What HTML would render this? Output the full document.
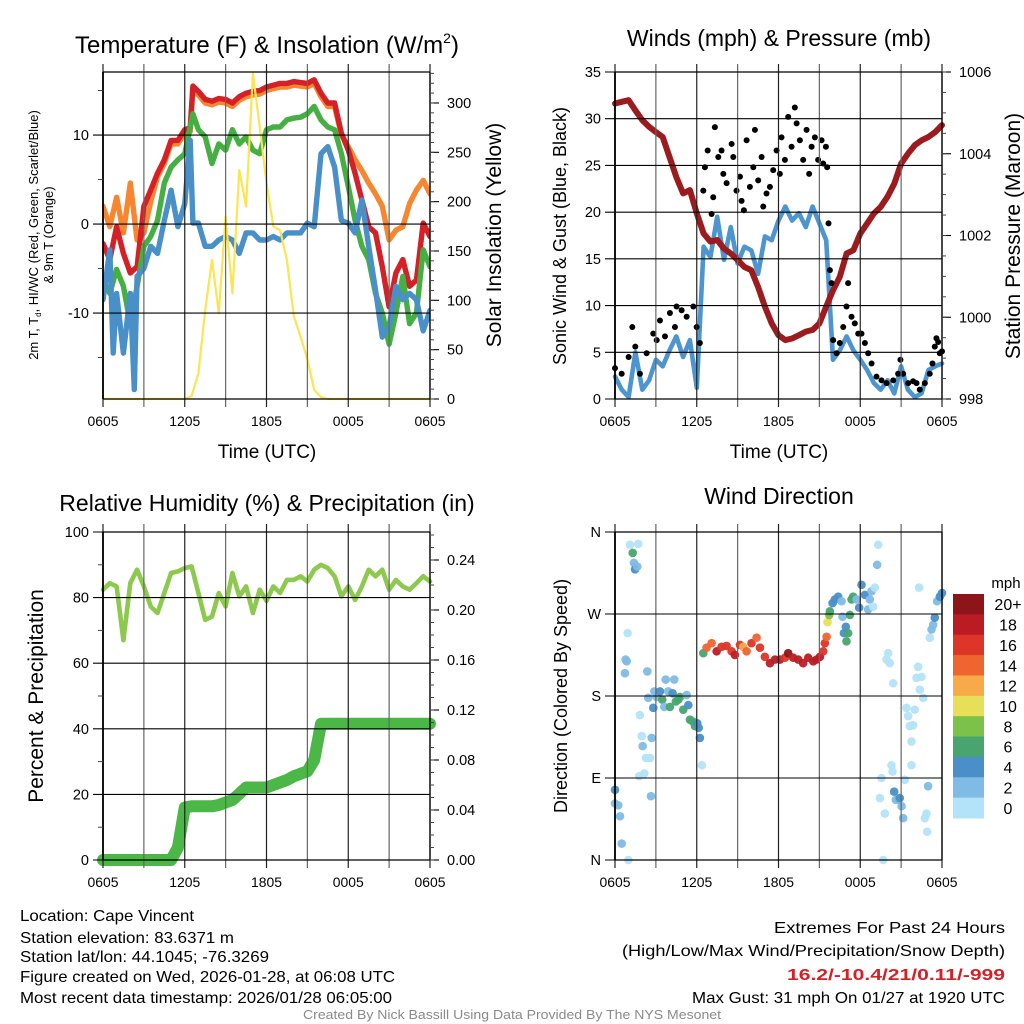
<!DOCTYPE html>
<html><head><meta charset="utf-8"><title>Mesonet Station Meteogram</title>
<style>
body{margin:0;background:#fff;}
svg{display:block;font-family:"Liberation Sans",sans-serif;}
</style></head>
<body>
<svg id="chart" width="1024" height="1024" viewBox="0 0 1024 1024" xmlns="http://www.w3.org/2000/svg">
<rect width="1024" height="1024" fill="#fff"/>
<g id="marks"></g>
<g id="axes"></g>
<g id="texts" fill="#000">
<text x="267" y="53" font-size="24" text-anchor="middle">Temperature (F) &amp; Insolation (W/m<tspan font-size="14" dy="-10">2</tspan><tspan dy="10">)</tspan></text>
<text x="779" y="46" font-size="23" text-anchor="middle">Winds (mph) &amp; Pressure (mb)</text>
<text x="267" y="511" font-size="23" text-anchor="middle">Relative Humidity (%) &amp; Precipitation (in)</text>
<text x="779" y="504" font-size="23" text-anchor="middle">Wind Direction</text>
<text x="267" y="458" font-size="19" text-anchor="middle">Time (UTC)</text>
<text x="779" y="458" font-size="19" text-anchor="middle">Time (UTC)</text>
<text transform="translate(38,235) rotate(-90)" font-size="13" text-anchor="middle">2m T, T<tspan font-size="8" dy="3">d</tspan><tspan dy="-3">, HI/WC (Red, Green, Scarlet/Blue)</tspan></text>
<text transform="translate(53,235) rotate(-90)" font-size="13" text-anchor="middle">&amp; 9m T (Orange)</text>
<text transform="translate(501,235) rotate(-90)" font-size="21" text-anchor="middle">Solar Insolation (Yellow)</text>
<text transform="translate(566,236) rotate(-90)" font-size="18" text-anchor="middle">Sonic Wind &amp; Gust (Blue, Black)</text>
<text transform="translate(1020,236) rotate(-90)" font-size="21" text-anchor="middle">Station Pressure (Maroon)</text>
<text transform="translate(43,696) rotate(-90)" font-size="21" text-anchor="middle">Percent &amp; Precipitation</text>
<text transform="translate(567,696) rotate(-90)" font-size="18" text-anchor="middle">Direction (Colored By Speed)</text>
<text x="1006" y="588" font-size="15" text-anchor="middle">mph</text>
<text x="20" y="921" font-size="16" textLength="174" lengthAdjust="spacingAndGlyphs">Location: Cape Vincent</text>
<text x="20" y="943" font-size="16" textLength="214" lengthAdjust="spacingAndGlyphs">Station elevation: 83.6371 m</text>
<text x="20" y="962" font-size="16" textLength="249" lengthAdjust="spacingAndGlyphs">Station lat/lon: 44.1045; -76.3269</text>
<text x="20" y="982" font-size="16" textLength="375" lengthAdjust="spacingAndGlyphs">Figure created on Wed, 2026-01-28, at 06:08 UTC</text>
<text x="20" y="1003" font-size="16" textLength="372" lengthAdjust="spacingAndGlyphs">Most recent data timestamp: 2026/01/28 06:05:00</text>
<text x="1005" y="933" font-size="16" text-anchor="end" textLength="231" lengthAdjust="spacingAndGlyphs">Extremes For Past 24 Hours</text>
<text x="1005" y="956" font-size="16" text-anchor="end" textLength="383" lengthAdjust="spacingAndGlyphs">(High/Low/Max Wind/Precipitation/Snow Depth)</text>
<text x="1005" y="980" font-size="16" font-weight="bold" fill="#d42027" text-anchor="end" textLength="218" lengthAdjust="spacingAndGlyphs">16.2/-10.4/21/0.11/-999</text>
<text x="1005" y="1003" font-size="16" text-anchor="end" textLength="313" lengthAdjust="spacingAndGlyphs">Max Gust: 31 mph On 01/27 at 1920 UTC</text>
<text x="512" y="1019" font-size="13" fill="#8a8a8a" text-anchor="middle" textLength="418" lengthAdjust="spacingAndGlyphs">Created By Nick Bassill Using Data Provided By The NYS Mesonet</text>
</g>
</svg>
<script>
// ---------- data ----------
const timeTicks = ["0605","1205","1805","0005","0605"];
const tempHours = [0,0.5,1,1.5,2,2.5,3,3.5,4,4.5,5,5.5,6,6.4,6.6,7,7.5,8,8.5,9,9.5,10,10.5,11,11.5,12,12.5,13,13.5,14,14.5,15,15.5,16,16.5,17,17.5,18,18.5,19,19.5,20,20.5,21,21.5,22,22.5,23,23.5,24];
const temp2m = [-2.2,-4,-0.3,-3.3,-5.5,-4.8,2,3.8,5.7,7.2,9.4,9.4,10.6,10.8,15.5,14.9,14,13.8,14.1,14,13.6,14.3,14.7,14.9,15,15.4,15.6,15.8,15.8,16,15.9,15.8,16.2,14.7,13.6,13.6,10.2,8.3,5.7,2.7,-0.3,-1,-4.8,-9.3,-5.5,-4,-7,-6.3,0.1,-1.4];
const temp9m = [2,-0.3,3,-1,4.6,-1.8,-1,2.5,5.3,6.8,9,9,10.2,10.4,15.1,14.5,13.6,13.4,13.7,13.6,13.2,13.9,14.3,14.5,14.6,15,15.2,15.4,15.4,15.6,15.5,15.4,15.8,14.3,13.2,13.2,10,8.7,7.2,6,4.6,3.4,2,-1.8,-0.7,-0.3,2.3,3.8,4.9,3.4];
const dewpoint = [-6.3,-7.8,-5.1,-7,-11.2,-7,-2.5,-1.4,0.4,4.6,6.4,7.2,7.9,10.9,12.4,10.6,9.8,6.8,9,8.3,10.6,9,9.8,8.3,7.9,10.6,10.9,10.9,11.7,11.9,12,12.4,13.2,11.7,10.9,10.6,7.9,4.2,0.4,-2.5,-4,-7.8,-10,-13.5,-10,-5.9,-11.2,-10,-2.9,-4.8];
const windChillHours = [0,0.5,0.75,1,1.5,2,2.3,2.5,3,3.5,4,4.5,5,5.5,6,6.4,6.6,7,7.5,8,8.5,9,9.5,10,10.5,11,11.5,12,12.5,13,13.5,14,14.5,15,15.5,16,16.5,17,17.5,18,18.5,19,19.5,20,20.5,21,21.5,22,22.5,23,23.5,24];
const windChill = [-8.5,-2.9,-14.5,-7.8,-14.5,-7.8,-18.6,-5.9,-5,-2.5,-3.3,0.4,3.8,-0.3,2.3,9.4,0.1,0.1,-2.5,-2.5,-1.8,-1.4,-1.8,-3.3,-1,-1,-1.8,-1.8,-1.4,-1.8,-1,-1,-1,0.1,-0.3,7.9,8.7,6.4,0.4,0.1,-1,2.7,-2.5,-7.4,-12.7,-11.5,-7,-8.5,-7.8,-8.5,-12,-9.7];
const halfHours = [0,0.5,1,1.5,2,2.5,3,3.5,4,4.5,5,5.5,6,6.5,7,7.5,8,8.5,9,9.5,10,10.5,11,11.5,12,12.5,13,13.5,14,14.5,15,15.5,16,16.5,17,17.5,18,18.5,19,19.5,20,20.5,21,21.5,22,22.5,23,23.5,24];
const solar = [0,0,0,0,0,0,0,0,0,0,0,0,0,3,26,90,141,87,185,107,232,195,330,276,219,175,171,141,84,63,40,9,2,0,0,0,0,0,0,0,0,0,0,0,0,0,0,0,0];
const windSpeed = [2.4,1,0.2,5,1,2,4.2,3.5,5.2,6.7,4.5,6.3,1.2,16.3,15.2,19.5,14.9,18.4,14.5,16.3,15.9,13.4,17.4,17,19.1,20.6,19.1,19.9,18.4,20.6,18.8,17,4.2,5.2,6.7,5.2,4.2,3.1,1.7,1,2,0.6,3.5,1,0.2,0.6,3.1,3.5,3.8];
const pressure = [1005.23,1005.27,1005.31,1005.06,1004.82,1004.66,1004.53,1004.41,1003.92,1003.43,1003.03,1003.11,1002.54,1002.05,1001.85,1001.89,1001.68,1001.56,1001.4,1001.23,1001.15,1000.74,1000.26,999.85,999.56,999.44,999.48,999.56,999.65,999.69,999.85,1000.26,1000.66,1000.99,1001.56,1001.64,1002.05,1002.29,1002.54,1002.7,1002.95,1003.27,1003.76,1004.0,1004.21,1004.33,1004.41,1004.53,1004.7];
const gustHours = [0,0.49,1.0,1.27,1.49,1.83,2.32,2.81,3.06,3.3,3.67,4.03,4.4,4.52,4.89,5.26,5.75,5.99,6.23,6.48,6.6,6.8,7.09,7.21,7.33,7.58,7.82,7.95,8.19,8.56,8.68,8.92,9.17,9.29,9.46,9.66,9.9,10.15,10.27,10.51,10.76,10.88,11.12,11.37,11.61,11.86,12.1,12.22,12.47,12.71,12.96,13.2,13.33,13.57,13.81,14.06,14.25,14.43,14.67,14.91,15.16,15.28,15.48,15.57,15.67,15.77,15.89,16.01,16.26,16.5,16.75,16.99,17.11,17.36,17.6,17.85,18.09,18.34,18.58,18.83,19.19,19.56,19.93,20.42,20.78,20.95,21.15,21.52,21.88,22.13,22.37,22.74,23.1,23.3,23.47,23.59,23.72,23.84,24.0];
const gustSpeed = [3.3,2.7,4.5,7.7,5.6,2.7,4.9,7,6.3,8.4,6.7,9.2,7.7,9.9,9.5,8.8,9.9,7.7,6,22.3,24.8,26.6,19.8,21.6,29.1,25.9,26.6,24.1,23.1,27.3,25.9,22.3,23.8,21.2,20.2,27.7,22.7,24.8,28.8,23.4,25.9,20.6,22,22.7,24.5,26.6,24.1,28,25.6,30.2,27,31.2,29.5,27.7,25.6,28.8,24.1,27,28,25.6,27.7,25.2,27,24.8,18.8,13.8,12.4,6.3,4.9,6,7.7,9.9,12.4,8.8,8.1,7,7,6,4.9,3.8,2.4,2,1.7,2,2.7,4.2,2.7,1.7,1.9,1.7,1,1.7,2.7,3.8,5.6,6.5,6.1,4.9,5.1];
const humidity = [82.4,84.4,83.4,67,84.4,88.5,83.4,77.3,75.3,81.4,87.5,88,89,89.5,81.4,73.2,74.2,81.4,77.3,87.5,80.4,83.4,75.3,82.4,79,83.4,81.4,85.4,85.4,86.5,84.9,88.5,90,89,86.5,80.4,83.4,79.3,83.4,88.5,86.5,88.5,82.4,85.4,83.4,82.4,84.4,86.5,84.9];
const precip = [0,0,0,0,0,0,0,0,0,0,0,0.01,0.042,0.043,0.043,0.043,0.043,0.044,0.046,0.048,0.053,0.058,0.058,0.058,0.058,0.06,0.062,0.064,0.067,0.069,0.071,0.08,0.109,0.109,0.109,0.109,0.109,0.109,0.109,0.109,0.109,0.109,0.109,0.109,0.109,0.109,0.109,0.109,0.109];
const dirHours = [0,0,0.24,0.37,0.49,0.98,0.73,0.78,0.86,0.93,1.1,1.3,1.39,1.47,1.64,1.71,1.83,1.78,1.96,2.03,2.15,2.27,2.37,2.57,2.64,2.69,2.44,2.81,2.89,3.06,3.3,3.47,3.62,3.72,3.91,4.03,4.23,4.35,4.47,4.65,4.77,5.01,5.26,5.38,5.5,5.7,5.87,6.04,6.14,6.23,6.38,
6.48,6.72,7.09,7.46,7.82,8.19,8.56,8.8,9.17,9.41,9.66,10.02,10.39,10.64,11.0,11.37,11.74,12.1,12.47,12.71,13.08,13.45,13.81,14.18,14.55,14.79,15.04,15.28,15.4,15.53,15.6,15.72,15.77,15.97,16.14,16.38,16.63,16.7,16.8,16.94,16.99,17.11,17.24,17.36,17.48,17.73,17.92,18.09,18.34,18.58,18.7,18.83,18.95,19.07,19.24,19.32,19.44,19.56,19.69,19.8,19.93,20.05,20.17,20.29,20.37,20.42,20.49,20.61,20.78,20.9,21.03,21.15,21.27,21.39,21.52,21.64,21.76,21.88,21.76,22.0,22.13,22.25,22.32,22.37,22.49,22.62,22.74,22.86,22.91,22.98,23.1,23.23,23.35,23.47,23.64,23.84,24.0];
const dirDegrees = [77,62,60,48,18,0,205,220,218,249,346,337,326,319,322,347,159,92,136,125,95,112,207,112,70,134,178,167,185,179,185,176,168,198,185,168,183,198,174,176,179,165,181,170,154,152,147,150,145,134,104,
227,233,238,229,234,235,229,225,236,234,229,238,244,233,223,216,220,220,222,227,222,220,216,222,218,220,223,229,238,245,261,269,273,282,286,289,284,267,249,256,240,249,269,286,289,286,277,302,291,275,286,295,278,299,324,346,68,90,0,51,220,227,216,104,97,194,75,66,66,68,59,46,88,167,158,147,130,148,104,165,200,212,299,187,201,178,46,51,31,81,244,253,258,266,284,289,293];
const dirSpeed = [5,3,3,3,3,1,3,3,3,1,1,7,3,5,3,1,1,1,1,3,1,1,3,1,3,3,3,5,3,3,5,7,3,3,3,7,5,3,7,7,7,7,3,5,7,7,7,5,5,5,1,
7,15,15,19,17,17,17,19,17,13,15,17,15,17,17,19,19,19,17,21,19,19,19,19,19,19,19,17,17,15,11,9,7,5,5,5,3,3,5,5,7,7,7,7,7,3,5,5,5,3,3,3,1,1,3,1,1,1,1,1,1,1,1,1,1,1,5,3,3,5,3,3,1,1,1,1,1,1,1,1,1,1,1,1,1,1,1,1,1,3,1,3,3,5,3,5,5];
const speedBandLabels = ["0","2","4","6","8","10","12","14","16","18","20+"];
const speedBandColors = ["#b3e3f8","#7fbbe4","#4a8fc7","#48a56f","#7cc24a","#e8df58","#f6aa48","#ef6530","#dd3528","#bb1c24","#8d1519"];

// ---------- helpers ----------
const NS = "http://www.w3.org/2000/svg";
const marks = document.getElementById("marks");
const axes = document.getElementById("axes");
function el(tag, attrs, parent){ const e=document.createElementNS(NS,tag); for(const k in attrs) e.setAttribute(k,attrs[k]); (parent||marks).appendChild(e); return e; }
function mkX(x0,x1){ return h => x0 + h*(x1-x0)/24; }
function mkY(vmin,vmax,ytop,ybot){ return v => ybot - (v-vmin)*(ybot-ytop)/(vmax-vmin); }
function pts(xs,ys,fx,fy){ return xs.map((h,i)=>fx(h).toFixed(1)+","+fy(ys[i]).toFixed(1)).join(" "); }

const panels = {
  temp:{x0:103,x1:430,y0:72,y1:399},
  wind:{x0:615,x1:942,y0:72,y1:399},
  rh:{x0:103,x1:430,y0:532,y1:860},
  dir:{x0:615,x1:942,y0:532,y1:860}
};

function frame(p, name){
  const g = el("g",{},axes);
  
  
  const X = mkX(p.x0,p.x1);
  for(let h=0; h<=24; h+=3){
    const l = el("line",{x1:X(h),x2:X(h),y1:p.y0-8,y2:p.y1+8,stroke:(h%6===0)?"#222":"#666","stroke-width":1.2},g);
    
    
  }
  timeTicks.forEach((t,i)=>{
    const tx = el("text",{x:X(i*6),y:p.y1+27,"font-size":14,"text-anchor":"middle",textLength:31,lengthAdjust:"spacingAndGlyphs"},g);
    tx.textContent = t;
    
    
  });
  el("line",{x1:p.x0,x2:p.x1,y1:p.y0,y2:p.y0,stroke:"#000","stroke-width":1.3},g);
  el("line",{x1:p.x0,x2:p.x1,y1:p.y1,y2:p.y1,stroke:"#000","stroke-width":1.3},g);
  el("line",{x1:p.x0,x2:p.x0,y1:p.y0,y2:p.y1,stroke:"#000","stroke-width":1.8},g);
  el("line",{x1:p.x1,x2:p.x1,y1:p.y0,y2:p.y1,stroke:"#000","stroke-width":1.3},g);
  return g;
}
function leftAxis(g,p,fy,vals,labels,minors,name){
  vals.forEach((v,i)=>{
    const y=fy(v);
    const l=el("line",{x1:p.x0-10,x2:p.x1,y1:y,y2:y,stroke:"#000","stroke-width":1.1},g);
    
    
    const t=el("text",{x:p.x0-14,y:y+5,"font-size":14.5,"text-anchor":"end"},g);
    t.textContent=labels[i];
    
    
  });
  minors.forEach(v=>{ const y=fy(v); el("line",{x1:p.x0-5,x2:p.x0,y1:y,y2:y,stroke:"#444","stroke-width":1},g); });
}
function rightAxis(g,p,fy,vals,labels,minors,name){
  vals.forEach((v,i)=>{
    const y=fy(v);
    el("line",{x1:p.x1,x2:p.x1+9,y1:y,y2:y,stroke:"#000","stroke-width":1.1},g);
    const t=el("text",{x:p.x1+17,y:y+5,"font-size":14.5},g);
    t.textContent=labels[i];
    
    
  });
  minors.forEach(v=>{ const y=fy(v); el("line",{x1:p.x1,x2:p.x1+4,y1:y,y2:y,stroke:"#444","stroke-width":1},g); });
}
function range(a,b,s){ const r=[]; for(let v=a; v<=b+1e-9; v+=s) r.push(+v.toFixed(4)); return r; }

// ---------- panel 1: temperature ----------
{
  const p=panels.temp, X=mkX(p.x0,p.x1);
  const Y=mkY(-19.66,17.08,p.y0,p.y1);
  const YS=mkY(0,331.4,p.y0,p.y1);
  const g=frame(p,"temp");
  leftAxis(g,p,Y,[-10,0,10],["-10","0","10"],[-15,-5,5,15],"temp");
  rightAxis(g,p,YS,range(0,300,50),range(0,300,50).map(String),range(0,330,10),"solar");
  const clip=el("clipPath",{id:"c1"}); el("rect",{x:p.x0,y:p.y0-6,width:p.x1-p.x0,height:p.y1-p.y0+6},clip);
  const lines=[
    [tempHours,temp9m,"#f68630","temp-9m-line"],
    [tempHours,temp2m,"#d42027","temp-2m-line"],
    [tempHours,dewpoint,"#45af44","dewpoint-line"],
    [windChillHours,windChill,"#4a90c8","wind-chill-line"]
  ];
  lines.forEach(([hx,vy,c,n])=>{
    const l=el("polyline",{points:pts(hx,vy,X,Y),fill:"none",stroke:c,"stroke-width":5.4,"stroke-linejoin":"round","stroke-linecap":"round","clip-path":"url(#c1)"});
    
    
  });
  const s=el("polyline",{points:pts(halfHours,solar,X,YS),fill:"none",stroke:"#fde452","stroke-width":2.2,"stroke-linejoin":"round"});
  
  
}
// ---------- panel 2: winds ----------
{
  const p=panels.wind, X=mkX(p.x0,p.x1);
  const Y=mkY(0,35,p.y0,p.y1);
  const YP=mkY(998,1006,p.y0,p.y1);
  const g=frame(p,"wind");
  leftAxis(g,p,Y,range(0,35,5),range(0,35,5).map(String),[],"wind");
  rightAxis(g,p,YP,[998,1000,1002,1004,1006],["998","1000","1002","1004","1006"],range(998,1006,0.5),"pressure");
  const w=el("polyline",{points:pts(halfHours,windSpeed,X,Y),fill:"none",stroke:"#4d95cf","stroke-width":4.6,"stroke-linejoin":"round","stroke-linecap":"round"});
  
  
  const pr=el("polyline",{points:pts(halfHours,pressure,X,YP),fill:"none",stroke:"#9b1b1e","stroke-width":6,"stroke-linejoin":"round","stroke-linecap":"round"});
  
  
  gustHours.forEach((h,i)=>{
    const c=el("circle",{cx:X(h),cy:Y(gustSpeed[i]),r:3,fill:"#000"});
    
    
  });
}
// ---------- panel 3: humidity ----------
{
  const p=panels.rh, X=mkX(p.x0,p.x1);
  const Y=mkY(0,100,p.y0,p.y1);
  const YP=mkY(0,0.2624,p.y0,p.y1);
  const g=frame(p,"rh");
  leftAxis(g,p,Y,range(0,100,20),range(0,100,20).map(String),range(10,90,20),"rh");
  rightAxis(g,p,YP,range(0,0.24,0.04),range(0,0.24,0.04).map(v=>v.toFixed(2)),range(0,0.26,0.01),"precip");
  const pc=el("polyline",{points:pts(halfHours,precip,X,YP),fill:"none",stroke:"#4bb747","stroke-width":12,"stroke-linejoin":"round","stroke-linecap":"round"});
  
  
  const rh=el("polyline",{points:pts(halfHours,humidity,X,Y),fill:"none",stroke:"#8dc94e","stroke-width":4.6,"stroke-linejoin":"round","stroke-linecap":"round"});
  
  
}
// ---------- panel 4: wind direction ----------
{
  const p=panels.dir, X=mkX(p.x0,p.x1);
  const Y=mkY(0,360,p.y0,p.y1);
  const g=frame(p,"dir");
  leftAxis(g,p,Y,[0,90,180,270,360],["N","E","S","W","N"],[],"dir");
  dirHours.forEach((h,i)=>{
    const b=Math.max(0,Math.min(10,Math.floor(dirSpeed[i]/2)));
    const c=el("circle",{cx:X(h),cy:Y(dirDegrees[i]),r:4.3,fill:speedBandColors[b],"fill-opacity":0.95});
    
    
  });
  const cb=el("g",{},axes);
  
  
  const top=594, bh=(818-594)/11;
  for(let i=0;i<11;i++){
    const idx=10-i;
    const r=el("rect",{x:953,y:top+i*bh,width:31,height:bh+0.5,fill:speedBandColors[idx]},cb);
    
    
    const t=el("text",{x:1008,y:top+i*bh+bh/2+6,"font-size":16,"text-anchor":"middle"},cb);
    t.textContent=speedBandLabels[idx];
    
    
  }
}
</script>
</body></html>
